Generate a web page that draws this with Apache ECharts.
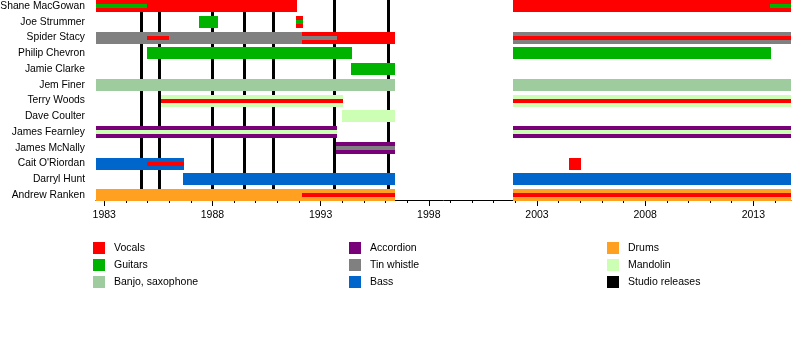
<!DOCTYPE html>
<html>
<head>
<meta charset="utf-8">
<title>The Pogues – band members timeline</title>
<script src="https://cdn.jsdelivr.net/npm/echarts@6/dist/echarts.min.js"></script>
<style>
  html, body { margin: 0; padding: 0; background: #fff; }
  #chart { width: 800px; height: 350px; }
</style>
</head>
<body>
<div id="chart"></div>
<script>
// Band members, top to bottom
const members = [
  'Shane MacGowan', 'Joe Strummer', 'Spider Stacy', 'Philip Chevron',
  'Jamie Clarke', 'Jem Finer', 'Terry Woods', 'Dave Coulter',
  'James Fearnley', 'James McNally', "Cait O'Riordan", 'Darryl Hunt',
  'Andrew Ranken'
];

// Timeline period (decimal years)
const periodStart = 1982.62;
const periodEnd = 2014.74;

// Year labels and yearly ticks
const yearLabels = [1983, 1988, 1993, 1998, 2003, 2008, 2013];
const yearTicks = [1983, 1984, 1985, 1986, 1987, 1988, 1989, 1990, 1991, 1992,
  1993, 1994, 1995, 1996, 1997, 1998, 1999, 2000, 2001, 2002, 2003, 2004,
  2005, 2006, 2007, 2008, 2009, 2010, 2011, 2012, 2013, 2014];

// Studio album release dates
const studioReleases = [1984.71, 1985.54, 1987.99, 1989.47, 1990.81, 1993.63, 1996.13];

// Instrument stints: [member, from, till, role]; 'main' = full bar, 'also' = thin inner bar
const vocals = [
  ['Shane MacGowan', 1982.62, 1991.91, 'main'],
  ['Shane MacGowan', 2001.89, 2014.74, 'main'],
  ['Joe Strummer', 1991.86, 1992.19, 'main'],
  ['Spider Stacy', 1992.14, 1996.44, 'main'],
  ['Spider Stacy', 1984.97, 1985.99, 'also'],
  ['Spider Stacy', 2001.89, 2014.74, 'also'],
  ['Terry Woods', 1985.62, 1994.03, 'also'],
  ['Terry Woods', 2001.89, 2014.74, 'also'],
  ["Cait O'Riordan", 1984.97, 1986.68, 'also'],
  ["Cait O'Riordan", 2004.48, 2005.04, 'main'],
  ['Andrew Ranken', 1992.14, 1996.44, 'also'],
  ['Andrew Ranken', 2001.89, 2014.74, 'also']
];
const guitars = [
  ['Shane MacGowan', 1982.62, 1985.0, 'also'],
  ['Shane MacGowan', 2013.77, 2014.74, 'also'],
  ['Joe Strummer', 1987.38, 1988.26, 'main'],
  ['Joe Strummer', 1991.86, 1992.19, 'also'],
  ['Philip Chevron', 1984.97, 1994.45, 'main'],
  ['Philip Chevron', 2001.89, 2013.82, 'main'],
  ['Jamie Clarke', 1994.40, 1996.44, 'main']
];
const banjo = [
  ['Jem Finer', 1982.62, 1996.44, 'main'],
  ['Jem Finer', 2001.89, 2014.74, 'main']
];
const accordion = [
  ['James Fearnley', 1982.62, 1993.76, 'main'],
  ['James Fearnley', 2001.89, 2014.74, 'main'],
  ['James McNally', 1993.70, 1996.44, 'main']
];
const tinWhistle = [
  ['Spider Stacy', 1982.62, 1992.14, 'main'],
  ['Spider Stacy', 1992.14, 1993.76, 'also'],
  ['Spider Stacy', 2001.89, 2014.74, 'main'],
  ['James McNally', 1993.70, 1996.44, 'also']
];
const bass = [
  ["Cait O'Riordan", 1982.62, 1986.68, 'main'],
  ['Darryl Hunt', 1986.64, 1996.44, 'main'],
  ['Darryl Hunt', 2001.89, 2014.74, 'main']
];
const drums = [
  ['Andrew Ranken', 1982.62, 1996.44, 'main'],
  ['Andrew Ranken', 2001.89, 2014.74, 'main']
];
const mandolin = [
  ['Terry Woods', 1985.62, 1994.03, 'main'],
  ['Terry Woods', 2001.89, 2014.74, 'main'],
  ['Dave Coulter', 1993.99, 1996.44, 'main'],
  ['James Fearnley', 1982.62, 1993.76, 'also'],
  ['James Fearnley', 2001.89, 2014.74, 'also']
];

const instruments = [
  { name: 'Vocals', color: '#ff0000', stints: vocals },
  { name: 'Guitars', color: '#00b300', stints: guitars },
  { name: 'Banjo, saxophone', color: '#9ecc9e', stints: banjo },
  { name: 'Accordion', color: '#780078', stints: accordion },
  { name: 'Tin whistle', color: '#808080', stints: tinWhistle },
  { name: 'Bass', color: '#0066cc', stints: bass },
  { name: 'Drums', color: '#ffa020', stints: drums },
  { name: 'Mandolin', color: '#ccffb3', stints: mandolin }
];

const BAR_H = 12;
const INNER_H = 4;
const FONT = 'Liberation Sans, Arial, sans-serif';

// Row scale: row centres spaced evenly, first row near the top edge
const yMin = -0.381;
const yMax = 12.317;

function stintSeries(inst) {
  return {
    name: inst.name,
    type: 'custom',
    z: 3,
    itemStyle: { color: inst.color },
    encode: { x: [1, 2], y: 0 },
    data: inst.stints.map(s => [members.indexOf(s[0]), s[1], s[2], s[3] === 'also' ? 1 : 0]),
    renderItem: function (params, api) {
      const row = api.value(0);
      const a = api.coord([api.value(1), row]);
      const b = api.coord([api.value(2), row]);
      const inner = api.value(3) === 1;
      const h = inner ? INNER_H : BAR_H;
      const x0 = Math.round(a[0]);
      const x1 = Math.round(b[0]);
      const y0 = Math.round(a[1] - h / 2);
      return {
        type: 'rect',
        shape: { x: x0, y: y0, width: Math.max(1, x1 - x0), height: h },
        style: { fill: inst.color },
        z2: inner ? 10 : 0
      };
    }
  };
}

const releaseSeries = {
  name: 'Studio releases',
  type: 'custom',
  z: 2,
  itemStyle: { color: '#000000' },
  encode: { x: 0 },
  data: studioReleases.map(d => [d]),
  renderItem: function (params, api) {
    const top = api.coord([api.value(0), yMin]);
    const bottom = api.coord([api.value(0), yMax]);
    const x = Math.floor(top[0]) + 0.5;
    return {
      type: 'line',
      shape: { x1: x, y1: top[1], x2: x, y2: bottom[1] },
      style: { stroke: '#000', lineWidth: 3 }
    };
  }
};

function legendColumn(names, left) {
  return {
    orient: 'vertical',
    left: left,
    top: 242,
    padding: 0,
    itemWidth: 12,
    itemHeight: 12,
    itemGap: 5,
    icon: 'rect',
    selectedMode: false,
    data: names,
    textStyle: { fontFamily: FONT, fontSize: 10.5, color: '#000', padding: [2, 0, 0, 4] }
  };
}

const chart = echarts.init(document.getElementById('chart'), null, { renderer: 'canvas' });
chart.setOption({
  animation: false,
  backgroundColor: '#ffffff',
  grid: { left: 96, right: 9, top: 0, height: 200, outerBoundsMode: 'none', containLabel: false },
  xAxis: [
    {
      type: 'value',
      min: periodStart,
      max: periodEnd,
      position: 'bottom',
      splitLine: { show: false },
      axisLine: { show: true, onZero: false, lineStyle: { color: '#000', width: 1 } },
      axisTick: { show: true, customValues: yearLabels, length: 6, lineStyle: { color: '#000' } },
      axisLabel: {
        customValues: yearLabels,
        formatter: v => String(v),
        fontFamily: FONT, fontSize: 10.5, color: '#000', margin: 10
      }
    },
    {
      type: 'value',
      min: periodStart,
      max: periodEnd,
      position: 'bottom',
      splitLine: { show: false },
      axisLine: { show: false, onZero: false },
      axisTick: { show: true, customValues: yearTicks, length: 3, lineStyle: { color: '#000' } },
      axisLabel: { show: false }
    }
  ],
  yAxis: {
    type: 'value',
    inverse: true,
    min: yMin,
    max: yMax,
    splitLine: { show: false },
    axisLine: { show: false },
    axisTick: { show: false },
    axisLabel: {
      customValues: members.map((m, i) => i),
      formatter: v => members[Math.round(v)],
      fontFamily: FONT, fontSize: 10.3, color: '#000', margin: 11
    }
  },
  legend: [
    legendColumn(['Vocals', 'Guitars', 'Banjo, saxophone'], 93),
    legendColumn(['Accordion', 'Tin whistle', 'Bass'], 349),
    legendColumn(['Drums', 'Mandolin', 'Studio releases'], 607)
  ],
  series: [releaseSeries].concat(instruments.map(stintSeries))
});
</script>
</body>
</html>
